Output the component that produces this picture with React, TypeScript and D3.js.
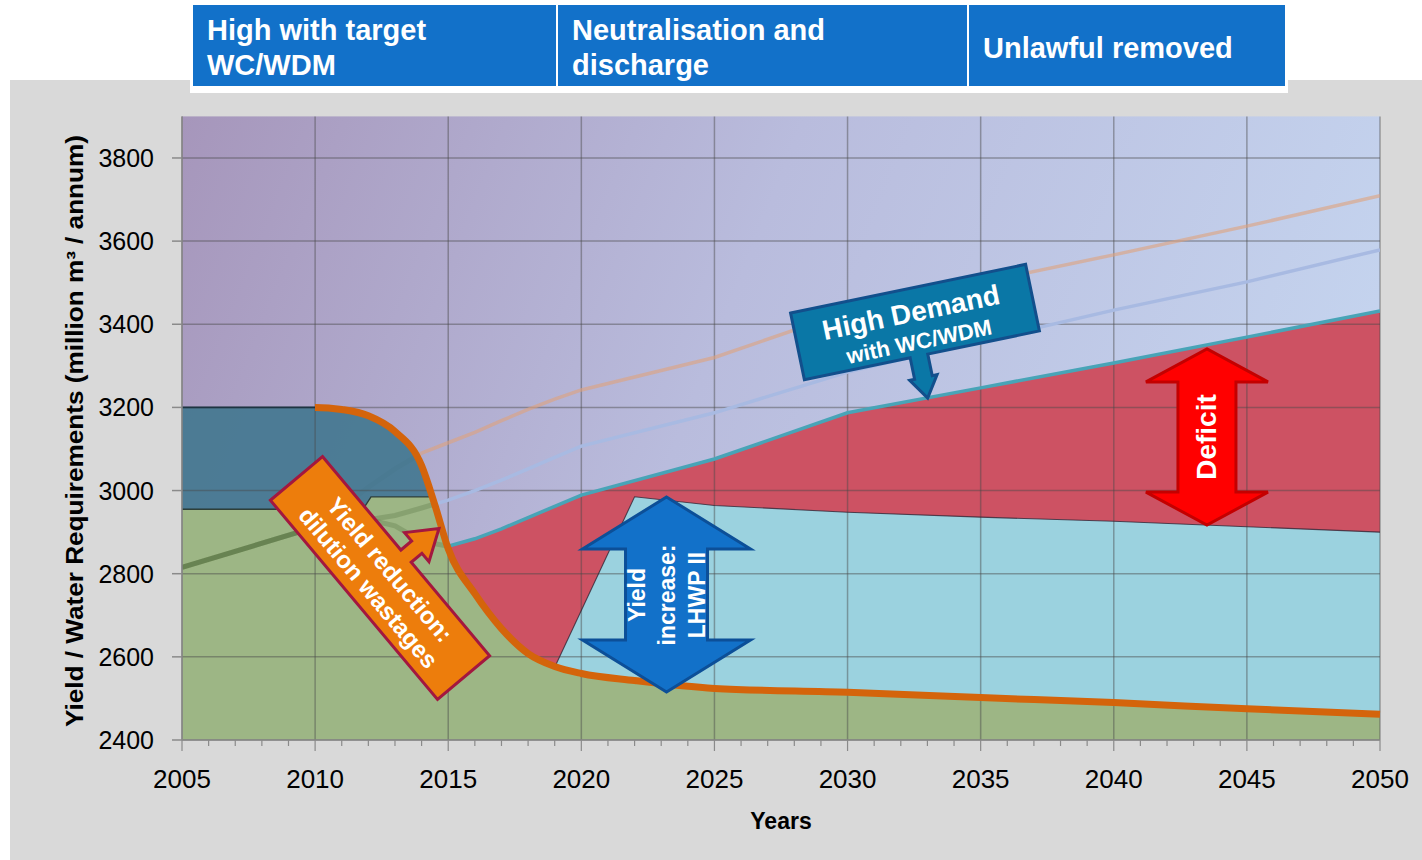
import React from "react";
import * as d3 from "d3";

// ---------- data ----------
const xTickYears = [2005, 2010, 2015, 2020, 2025, 2030, 2035, 2040, 2045, 2050];
const yTickValues = [2400, 2600, 2800, 3000, 3200, 3400, 3600, 3800];
const headerLines = [
  ["High with target", "WC/WDM"],
  ["Neutralisation and", "discharge"],
  ["Unlawful removed"],
];

// total system yield (orange curve); flat at the existing level before 2010
const yieldYears = [2005, 2010, 2011, 2012, 2013, 2014, 2014.5, 2015, 2016, 2017, 2018, 2019, 2020, 2022, 2025, 2030, 2035, 2040, 2045, 2050];
const yieldValues = [3200, 3200, 3195, 3180, 3142, 3060, 2965, 2860, 2752, 2668, 2608, 2577, 2560, 2543, 2524, 2515, 2502, 2490, 2475, 2462];

// base yield (green area top)
const baseYears = [2005, 2011.8, 2012.1, 2050];
const baseValues = [2955, 2955, 2985, 2985];

// demand scenarios
const demandYears = [2005, 2010, 2011, 2012, 2013, 2014, 2015, 2016, 2017, 2018, 2019, 2020, 2025, 2030, 2035, 2040, 2045, 2050];
const demandHigh = [2815, 2912, 2960, 3008, 3052, 3090, 3115, 3140, 3168, 3195, 3220, 3242, 3320, 3430, 3500, 3567, 3636, 3709];
const demandMid = [2815, 2912, 2922, 2930, 2940, 2958, 2977, 3000, 3025, 3052, 3080, 3107, 3187, 3285, 3360, 3434, 3502, 3579];
const demandWdm = [2815, 2912, 2922, 2930, 2915, 2878, 2866, 2884, 2908, 2935, 2962, 2989, 3076, 3187, 3247, 3307, 3369, 3432];

// yield with LHWP II (cyan area top)
const lhwpYears = [2019, 2022, 2025, 2030, 2035, 2040, 2045, 2050];
const lhwpValues = [2575, 2985, 2964, 2948, 2936, 2926, 2913, 2900];

const FONT = "'Liberation Sans', Arial, Helvetica, sans-serif";
type P = [number, number];

function doubleArrow(cx: number, yTop: number, yBot: number, headHalf: number, shaftHalf: number, headLen: number) {
  const p = d3.path();
  p.moveTo(cx, yTop);
  p.lineTo(cx + headHalf, yTop + headLen);
  p.lineTo(cx + shaftHalf, yTop + headLen);
  p.lineTo(cx + shaftHalf, yBot - headLen);
  p.lineTo(cx + headHalf, yBot - headLen);
  p.lineTo(cx, yBot);
  p.lineTo(cx - headHalf, yBot - headLen);
  p.lineTo(cx - shaftHalf, yBot - headLen);
  p.lineTo(cx - shaftHalf, yTop + headLen);
  p.lineTo(cx - headHalf, yTop + headLen);
  p.closePath();
  return p.toString();
}

export default function App() {
  const W = 1422, H = 860;
  const L = 182, R = 1380, B = 740, T = 116.4;
  const x = d3.scaleLinear().domain([2005, 2050]).range([L, R]);
  const y = d3.scaleLinear().domain([2400, 3900]).range([B, T]);

  const pts = (xs: number[], vs: number[]): P[] => xs.map((v, i) => [v, vs[i]] as P);
  const yieldPts = pts(yieldYears, yieldValues);
  const basePts = pts(baseYears, baseValues);
  const lhwpPts = pts(lhwpYears, lhwpValues);
  const highPts = pts(demandYears, demandHigh);
  const midPts = pts(demandYears, demandMid);
  const wdmPts = pts(demandYears, demandWdm);

  const underYield = d3.area<P>().x(d => x(d[0])).y0(B + 2).y1(d => y(d[1])).curve(d3.curveMonotoneX)(yieldPts) || "";
  const aboveYield = d3.area<P>().x(d => x(d[0])).y0(T - 40).y1(d => y(d[1])).curve(d3.curveMonotoneX)(yieldPts) || "";
  const yieldLine = d3.line<P>().x(d => x(d[0])).y(d => y(d[1])).curve(d3.curveMonotoneX)(yieldPts) || "";
  const lin = d3.line<P>().x(d => x(d[0])).y(d => y(d[1]));
  const fromBottom = d3.area<P>().x(d => x(d[0])).y0(B).y1(d => y(d[1]));

  const greenPath = fromBottom(basePts) || "";
  const tealBandPath = d3.area<P>().x(d => x(d[0])).y0(d => y(d[1])).y1(y(yieldValues[0]))(basePts) || "";
  const redPath = fromBottom(wdmPts.filter(d => d[0] >= 2015)) || "";
  const cyanPath = fromBottom(lhwpPts) || "";

  const boxes = [
    { x0: 193, x1: 556 },
    { x0: 558, x1: 967 },
    { x0: 969, x1: 1285 },
  ];

  const minorYears = d3.range(2005, 2051, 1);

  const yieldArrowX = x(2023.2);
  const deficitX = x(2043.5);
  const demandAt = d3.scaleLinear().domain(demandYears).range(demandWdm);
  const lhwpAt = d3.scaleLinear().domain(lhwpYears).range(lhwpValues);
  const defTop = y(demandAt(2043.5)) + 4;
  const defBot = y(lhwpAt(2043.5));

  return (
    <svg width={W} height={H} style={{ position: "absolute", left: 0, top: 0, fontFamily: FONT }}>
      <defs>
        <linearGradient id="bgGrad" gradientUnits="userSpaceOnUse" x1={L} y1={T} x2={R} y2={B - 150}>
          <stop offset="0" stopColor="#a696bb" />
          <stop offset="0.45" stopColor="#b9bcdd" />
          <stop offset="1" stopColor="#c6d7f1" />
        </linearGradient>
        <clipPath id="clipUnder"><path d={underYield} /></clipPath>
        <clipPath id="clipAbove"><path d={aboveYield} /></clipPath>
        <clipPath id="clipFrom2010"><rect x={x(2010)} y={0} width={R - x(2010) + 10} height={H} /></clipPath>
        <clipPath id="clipTo2010"><rect x={L} y={0} width={x(2010) - L} height={H} /></clipPath>
      </defs>

      <rect x={0} y={0} width={W} height={H} fill="#ffffff" />
      <rect x={10} y={80} width={W - 10} height={H - 80} fill="#d9d9d9" />

      {/* header */}
      <rect x={190} y={3} width={1098} height={90} fill="#ffffff" />
      {boxes.map((b, i) => (
        <g key={i}>
          <rect x={b.x0} y={5} width={b.x1 - b.x0} height={81} fill="#1271c9" />
          {headerLines[i].map((t, j) => (
            <text key={j} x={b.x0 + 14} y={headerLines[i].length === 1 ? 58 : 40 + j * 35}
              fill="#ffffff" fontSize={29} fontWeight="bold">{t}</text>
          ))}
        </g>
      ))}

      {/* plot background */}
      <rect x={L} y={T} width={R - L} height={B - T} fill="url(#bgGrad)" />

      {/* areas */}
      <path d={redPath} fill="#cd5263" />
      <path d={cyanPath} fill="#9bd2df" />
      <path d={greenPath} fill="#9db685" clipPath="url(#clipUnder)" />

      {/* demand lines seen through yield areas */}
      <g clipPath="url(#clipUnder)">
        <path d={lin(highPts) || ""} fill="none" stroke="#34501c" strokeOpacity={0.2} strokeWidth={5} />
        <path d={lin(midPts) || ""} fill="none" stroke="#34501c" strokeOpacity={0.2} strokeWidth={5} />
        <path d={lin(wdmPts) || ""} fill="none" stroke="#34501c" strokeOpacity={0.2} strokeWidth={5} />
      </g>
      <path d={tealBandPath} fill="#41778f" fillOpacity={0.9} clipPath="url(#clipUnder)" />

      {/* grid */}
      {yTickValues.map(v => (
        <line key={"gy" + v} x1={L} x2={R} y1={y(v)} y2={y(v)} stroke="#4a4a4a" strokeOpacity={0.45} strokeWidth={1.5} />
      ))}
      {xTickYears.map(v => (
        <line key={"gx" + v} x1={x(v)} x2={x(v)} y1={T} y2={B} stroke="#4a4a4a" strokeOpacity={0.45} strokeWidth={1.5} />
      ))}

      {/* boundary lines */}
      <path d={lin(basePts) || ""} fill="none" stroke="#1e2e28" strokeWidth={1.3} strokeOpacity={0.85} clipPath="url(#clipUnder)" />
      <path d={yieldLine} fill="none" stroke="#1d3442" strokeWidth={1.6} clipPath="url(#clipTo2010)" />
      <path d={lin(lhwpPts) || ""} fill="none" stroke="#2b2030" strokeWidth={1.1} strokeOpacity={0.75} />

      {/* demand lines above yield */}
      <g clipPath="url(#clipAbove)">
        <path d={lin(highPts) || ""} fill="none" stroke="#e0a27c" strokeOpacity={0.6} strokeWidth={3.5} />
        <path d={lin(midPts) || ""} fill="none" stroke="#a8bae2" strokeWidth={3.5} />
        <path d={lin(wdmPts) || ""} fill="none" stroke="#48a4b7" strokeWidth={3.5} />
      </g>

      {/* yield curve */}
      <path d={yieldLine} fill="none" stroke="#d4640b" strokeWidth={7} clipPath="url(#clipFrom2010)" />

      {/* axes */}
      <line x1={L} x2={L} y1={T} y2={B} stroke="#8a8a8a" strokeWidth={1.5} />
      <line x1={L} x2={R} y1={B} y2={B} stroke="#8a8a8a" strokeWidth={1.5} />
      {yTickValues.map(v => (
        <g key={"ty" + v}>
          <line x1={L - 10} x2={L} y1={y(v)} y2={y(v)} stroke="#8a8a8a" strokeWidth={1.5} />
          <text x={154} y={y(v)} dy="0.36em" textAnchor="end" fontSize={25} fill="#000">{v}</text>
        </g>
      ))}
      {minorYears.map(v => (
        <line key={"mx" + v} x1={x(v)} x2={x(v)} y1={B} y2={B + (v % 5 === 0 ? 11 : 6)} stroke="#8a8a8a" strokeWidth={1.2} />
      ))}
      {xTickYears.map(v => (
        <text key={"tx" + v} x={x(v)} y={788} textAnchor="middle" fontSize={26} fill="#000">{v}</text>
      ))}
      <text x={781} y={829} textAnchor="middle" fontSize={23} fontWeight="bold" fill="#000">Years</text>
      <text transform={`translate(83,431) rotate(-90)`} textAnchor="middle" fontSize={23} fontWeight="bold" fill="#000"
        textLength={592} lengthAdjust="spacingAndGlyphs">
        Yield / Water Requirements (million m³ / annum)
      </text>

      {/* Yield increase arrow */}
      <path d={doubleArrow(yieldArrowX, 497, 692, 84, 41, 52)} fill="#1271c9" stroke="#0c4f98" strokeWidth={3} strokeLinejoin="miter" />
      <g transform={`translate(${yieldArrowX},595) rotate(-90)`} fill="#ffffff" fontWeight="bold" fontSize={23} textAnchor="middle">
        <text x={0} y={-30} dominantBaseline="central">Yield</text>
        <text x={0} y={0} dominantBaseline="central">increase:</text>
        <text x={0} y={30} dominantBaseline="central">LHWP II</text>
      </g>

      {/* Deficit arrow */}
      <path d={doubleArrow(deficitX, defTop, defBot, 61, 29, 33)} fill="#ff0000" stroke="#c40000" strokeWidth={3} />
      <text transform={`translate(${deficitX},${(defTop + defBot) / 2}) rotate(-90)`} textAnchor="middle" dominantBaseline="central"
        fill="#ffffff" fontWeight="bold" fontSize={28}>Deficit</text>

      {/* Yield reduction callout */}
      <g transform="translate(380,578) rotate(50)">
        <path d="M-130,-34 L-8,-34 L-8,-48 L-19,-48 L0,-77 L19,-48 L8,-48 L8,-34 L130,-34 L130,34 L-130,34 Z"
          fill="#ed7d0c" stroke="#a3173f" strokeWidth={3} strokeLinejoin="miter" />
        <text x={0} y={-13} textAnchor="middle" dominantBaseline="central" fill="#fff" fontWeight="bold" fontSize={24}>Yield reduction:</text>
        <text x={0} y={15} textAnchor="middle" dominantBaseline="central" fill="#fff" fontWeight="bold" fontSize={24}>dilution wastages</text>
      </g>

      {/* High Demand callout */}
      <g transform="translate(915,322) rotate(-11.7)">
        <path d="M-120,-34 L120,-34 L120,34 L6,34 L6,56 L11,56 L-3,77 L-17,56 L-12,56 L-12,34 L-120,34 Z"
          fill="#0a77a6" stroke="#124f8c" strokeWidth={3} strokeLinejoin="miter" />
        <text x={-2} y={-10} textAnchor="middle" dominantBaseline="central" fill="#fff" fontWeight="bold" fontSize={28}>High Demand</text>
        <text x={0} y={20} textAnchor="middle" dominantBaseline="central" fill="#fff" fontWeight="bold" fontSize={22}>with WC/WDM</text>
      </g>
    </svg>
  );
}
